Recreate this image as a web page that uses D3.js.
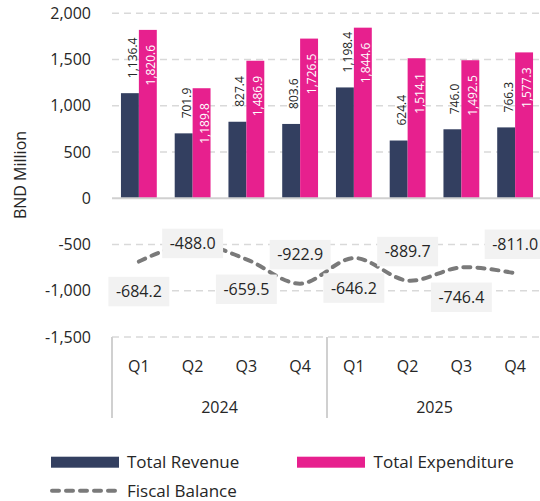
<!DOCTYPE html>
<html>
<head>
<meta charset="utf-8">
<script src="https://cdn.jsdelivr.net/npm/d3@7"></script>
<style>
  html, body { margin: 0; padding: 0; background: #fff; }
  svg { display: block; font-family: "Open Sans", "Noto Sans", sans-serif; }
</style>
</head>
<body>
<svg id="chart" width="540" height="501"></svg>
<script>
// Quarterly government finances, BND million
const quarters = ["Q1", "Q2", "Q3", "Q4", "Q1", "Q2", "Q3", "Q4"];
const years = ["2024", "2025"];
const revenue = [1136.4, 701.9, 827.4, 803.6, 1198.4, 624.4, 746.0, 766.3];
const expenditure = [1820.6, 1189.8, 1486.9, 1726.5, 1844.6, 1514.1, 1492.5, 1577.3];
const balance = [-684.2, -488.0, -659.5, -922.9, -646.2, -889.7, -746.4, -811.0];
const yTicks = [-1500, -1000, -500, 0, 500, 1000, 1500, 2000];
const seriesNames = ["Total Revenue", "Total Expenditure", "Fiscal Balance"];

const COL_REV = "#333F60";
const COL_EXP = "#E7208E";
const COL_BAL = "#7A7A7A";
const TEXT = "#262626";
const GRID = "#D9D9D9";
const AXIS = "#D0D0D0";

const locale = d3.formatLocale({ decimal: ".", thousands: ",", grouping: [3], currency: ["", ""], minus: "-" });
const fmtTick = locale.format(",");
const fmtVal = locale.format(",.1f");

const svg = d3.select("#chart");
const plot = { left: 112, right: 542, top: 13.3, bottom: 337 };

const idx = d3.range(quarters.length);
const x = d3.scaleBand().domain(idx).range([plot.left, plot.right]).padding(0);
const y = d3.scaleLinear().domain([-1500, 2000]).range([plot.bottom, plot.top]);
const barW = x.bandwidth() / 3;
const cx = i => x(i) + x.bandwidth() / 2;

// gridlines
svg.append("g").selectAll("line")
  .data(yTicks.filter(t => t !== 0))
  .join("line")
  .attr("x1", plot.left).attr("x2", 540)
  .attr("y1", d => y(d)).attr("y2", d => y(d))
  .attr("stroke", GRID).attr("stroke-width", 1.5)
  .attr("stroke-dasharray", "7 5");

// value axis labels
const yAxis = d3.axisLeft(y).tickValues(yTicks).tickFormat(fmtTick).tickSize(0).tickPadding(0);
const gy = svg.append("g").attr("transform", "translate(91,0)").call(yAxis);
gy.select(".domain").remove();
gy.selectAll("text").attr("font-size", 16).attr("fill", TEXT)
  .attr("font-family", "Open Sans, Noto Sans, sans-serif");

svg.append("text")
  .attr("transform", "translate(20.5,175) rotate(-90)")
  .attr("text-anchor", "middle").attr("dy", "0.35em")
  .attr("font-size", 16).attr("fill", TEXT)
  .text("BND Million");

// bars
const bars = svg.append("g");
bars.selectAll("rect.rev").data(idx).join("rect").attr("class", "rev")
  .attr("x", i => cx(i) - barW).attr("width", barW)
  .attr("y", i => y(revenue[i])).attr("height", i => y(0) - y(revenue[i]))
  .attr("fill", COL_REV);
bars.selectAll("rect.exp").data(idx).join("rect").attr("class", "exp")
  .attr("x", i => cx(i)).attr("width", barW)
  .attr("y", i => y(expenditure[i])).attr("height", i => y(0) - y(expenditure[i]))
  .attr("fill", COL_EXP);

// zero line
svg.append("line")
  .attr("x1", plot.left).attr("x2", 540)
  .attr("y1", y(0)).attr("y2", y(0))
  .attr("stroke", AXIS).attr("stroke-width", 2);

// bar value labels (rotated)
const lab = svg.append("g").attr("font-size", 12);
lab.selectAll("text.rev").data(idx).join("text").attr("class", "rev")
  .attr("transform", i => `translate(${cx(i) - barW / 2 + 7},${y(revenue[i]) - 15}) rotate(-90)`)
  .attr("text-anchor", "start").attr("fill", TEXT)
  .text(i => fmtVal(revenue[i]));
lab.selectAll("text.exp").data(idx).join("text").attr("class", "exp")
  .attr("transform", i => `translate(${cx(i) + barW / 2 + 7},${y(expenditure[i]) + 15}) rotate(-90)`)
  .attr("text-anchor", "end").attr("fill", "#fff")
  .text(i => fmtVal(expenditure[i]));

// fiscal balance line
const line = d3.line()
  .x(i => cx(i)).y(i => y(balance[i]))
  .curve(d3.curveCardinal.tension(0));
svg.append("path")
  .datum(idx)
  .attr("d", line)
  .attr("fill", "none").attr("stroke", COL_BAL)
  .attr("stroke-width", 4).attr("stroke-linecap", "round")
  .attr("stroke-dasharray", "7 7");

// fiscal balance labels: alternating below / above, kept clear of the zero line
const boxH = 29.5;
const balLabels = svg.append("g");
idx.forEach(i => {
  const py = y(balance[i]);
  let cy;
  if (i % 2 === 0) {
    cy = py + 30;
  } else {
    cy = py - 29;
    if (cy - boxH / 2 < y(0) + 5) cy = py;
  }
  const g = balLabels.append("g");
  const t = g.append("text")
    .attr("x", cx(i)).attr("y", cy).attr("dy", "0.35em")
    .attr("text-anchor", "middle").attr("font-size", 16).attr("fill", TEXT)
    .text(fmtVal(balance[i]));
  const w = t.node().getComputedTextLength() + 15;
  g.insert("rect", "text")
    .attr("x", cx(i) - w / 2).attr("y", cy - boxH / 2)
    .attr("width", w).attr("height", boxH)
    .attr("fill", "#F2F2F2");
});

// category axis: quarters and years
const cat = svg.append("g").attr("font-size", 16).attr("fill", TEXT);
cat.selectAll("text.q").data(idx).join("text").attr("class", "q")
  .attr("x", i => cx(i)).attr("y", 366).attr("dy", "0.35em")
  .attr("text-anchor", "middle").text(i => quarters[i]);
const perYear = quarters.length / years.length;
cat.selectAll("text.yr").data(years).join("text").attr("class", "yr")
  .attr("x", (d, k) => (x(k * perYear) + x((k + 1) * perYear - 1) + x.bandwidth()) / 2)
  .attr("y", 407.3).attr("dy", "0.35em")
  .attr("text-anchor", "middle").text(d => d);
const seps = d3.range(years.length + 1).map(k => k === years.length ? plot.right : x(k * perYear));
svg.append("g").selectAll("line").data(seps).join("line")
  .attr("x1", d => d).attr("x2", d => d)
  .attr("y1", plot.bottom).attr("y2", 418)
  .attr("stroke", AXIS).attr("stroke-width", 2);

// legend
const leg = svg.append("g").attr("font-size", 17).attr("fill", TEXT);
leg.append("rect").attr("x", 51).attr("y", 456.7).attr("width", 68).attr("height", 11).attr("fill", COL_REV);
leg.append("text").attr("x", 127).attr("y", 468.3).text(seriesNames[0]);
leg.append("rect").attr("x", 297).attr("y", 456.7).attr("width", 68).attr("height", 11).attr("fill", COL_EXP);
leg.append("text").attr("x", 373.6).attr("y", 468.3).text(seriesNames[1]);
leg.append("line").attr("x1", 52).attr("x2", 118).attr("y1", 490.7).attr("y2", 490.7)
  .attr("stroke", COL_BAL).attr("stroke-width", 4).attr("stroke-linecap", "round")
  .attr("stroke-dasharray", "7 7");
leg.append("text").attr("x", 127).attr("y", 496.5).text(seriesNames[2]);
</script>
</body>
</html>
